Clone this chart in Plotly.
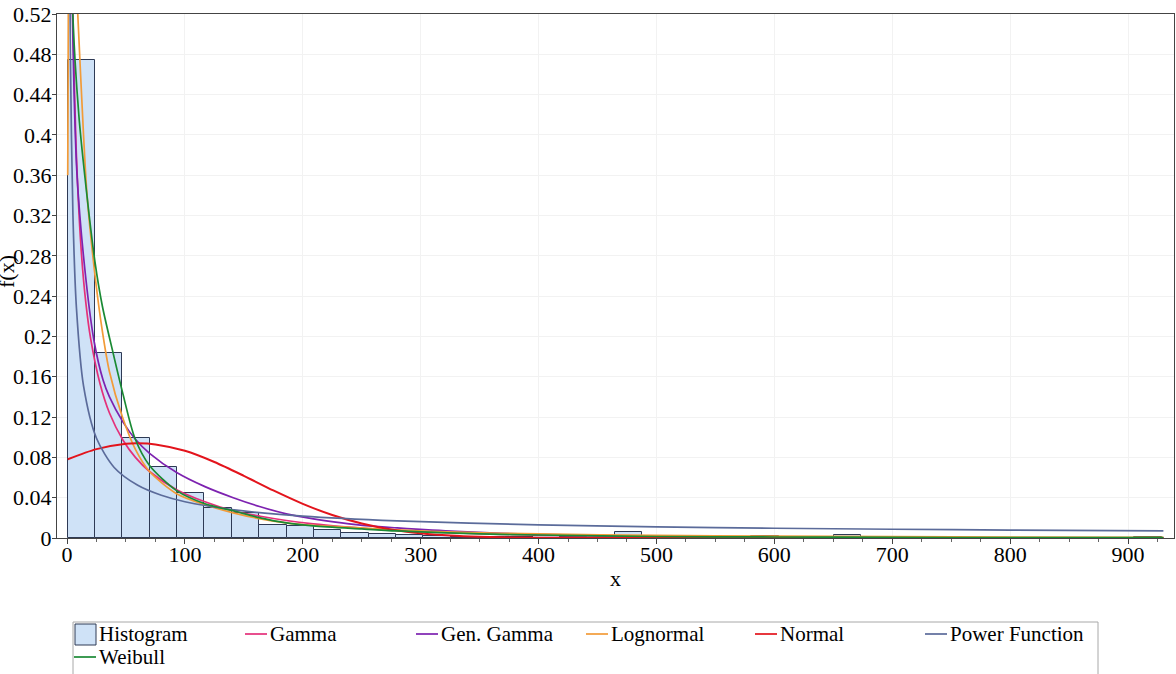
import plotly.graph_objects as go

# Histogram: relative frequency per bin (40 equal bins)
bin_start = 0.6
bin_width = 23.2
hist_freq = [0.474, 0.184, 0.099, 0.070, 0.045, 0.030, 0.025, 0.013, 0.012, 0.008,
             0.005, 0.004, 0.003, 0.002, 0.001, 0.001, 0.001, 0.002, 0.001, 0.0,
             0.006, 0.0, 0.0, 0.0, 0.0, 0.002, 0.0, 0.0, 0.003, 0.0,
             0.0, 0.0, 0.0, 0.0, 0.0, 0.0, 0.0, 0.0, 0.0, 0.001]

# Fitted densities (scaled to bin width)
gamma_x = [1, 2, 4, 5, 7.6, 12, 16, 20, 28, 36, 47.5, 58, 70, 93, 117, 141, 164, 186,
           209, 233, 256, 280, 330, 400, 500, 600, 700, 800, 930]
gamma_y = [1.45, 0.94, 0.597, 0.517, 0.391, 0.286, 0.233, 0.198, 0.153, 0.124, 0.097,
           0.080, 0.066, 0.048, 0.036, 0.027, 0.0216, 0.0174, 0.0140, 0.0113, 0.0092,
           0.0075, 0.0050, 0.0028, 0.0013, 0.0006, 0.0003, 0.00015, 0.00006]

gengamma_x = [1, 2, 4.5, 8.5, 16, 23, 30.5, 36, 47.5, 58, 70, 93, 117, 141, 164, 186,
              209, 233, 256, 280, 330, 400, 500, 600, 700, 800, 930]
gengamma_y = [1.3, 0.85, 0.523, 0.36, 0.257, 0.195, 0.157, 0.140, 0.115, 0.098, 0.084,
              0.065, 0.051, 0.040, 0.031, 0.024, 0.019, 0.015, 0.012, 0.010, 0.0065,
              0.0035, 0.0015, 0.0006, 0.00025, 0.0001, 0.00004]

lognorm_x = [0.6, 1.5, 3, 5, 9, 14, 17, 24, 30, 36, 47, 58, 70, 93, 117, 141, 164, 186,
             209, 233, 256, 280, 330, 400, 500, 600, 700, 800, 930]
lognorm_y = [0.36, 0.62, 0.68, 0.63, 0.523, 0.40, 0.34, 0.258, 0.205, 0.165, 0.120,
             0.088, 0.066, 0.044, 0.033, 0.025, 0.019, 0.015, 0.0125, 0.011, 0.0095,
             0.008, 0.0058, 0.004, 0.0026, 0.0018, 0.0013, 0.001, 0.0007]

normal_x = [0.6, 25, 50, 60, 75, 100, 125, 150, 175, 200, 225, 250, 275, 300, 325,
            350, 400, 450, 500, 600, 700, 800, 930]
normal_y = [0.0782, 0.0882, 0.0935, 0.094, 0.0929, 0.0865, 0.0754, 0.0617, 0.0472,
            0.0339, 0.0228, 0.0144, 0.0085, 0.0047, 0.0024, 0.0012, 0.0002, 0.0, 0.0,
            0.0, 0.0, 0.0, 0.0]

power_x = [1, 2, 3, 5, 8, 14, 25, 40, 60, 80, 100, 140, 200, 280, 400, 500, 600, 700,
           800, 930]
power_y = [1.04, 0.63, 0.465, 0.321, 0.228, 0.151, 0.099, 0.070, 0.0523, 0.0424, 0.036,
           0.0282, 0.0217, 0.017, 0.0131, 0.0111, 0.0097, 0.0087, 0.0079, 0.0071]

weibull_x = [1, 4.8, 10, 15.3, 23.7, 30, 39, 47, 57.6, 70, 93, 117, 141, 164, 186, 209,
             250, 280, 350, 400, 500, 600, 700, 800, 930]
weibull_y = [0.95, 0.523, 0.42, 0.357, 0.274, 0.23, 0.184, 0.145, 0.099, 0.072, 0.047,
             0.034, 0.027, 0.020, 0.015, 0.012, 0.009, 0.007, 0.004, 0.003, 0.0015,
             0.001, 0.0006, 0.0004, 0.0003]

y_ticks = [0, 0.04, 0.08, 0.12, 0.16, 0.2, 0.24, 0.28, 0.32, 0.36, 0.4, 0.44, 0.48, 0.52]
y_tick_text = ["0", "0.04", "0.08", "0.12", "0.16", "0.2", "0.24", "0.28", "0.32",
               "0.36", "0.4", "0.44", "0.48", "0.52"]

SERIF = "'Liberation Serif', 'Times New Roman', 'DejaVu Serif', serif"
HIST_FILL = "#cfe2f7"
HIST_EDGE = "#2e3a55"

# Figure / plot-area geometry in pixels
W, H = 1176, 674
ML, MR, MT, MB = 57, 2, 14, 136
PW, PH = W - ML - MR, H - MT - MB


def paper_x(px):
    return (px - ML) / PW


def paper_y(py):
    return (H - MB - py) / PH


fig = go.Figure()

centers = [bin_start + bin_width * (i + 0.5) for i in range(len(hist_freq))]
fig.add_trace(go.Bar(
    x=centers, y=hist_freq, width=bin_width, name="Histogram",
    marker=dict(color=HIST_FILL, line=dict(color=HIST_EDGE, width=1)),
))

curves = [
    ("Gamma", gamma_x, gamma_y, "#e4307a", 1.7),
    ("Gen. Gamma", gengamma_x, gengamma_y, "#7d22b0", 1.7),
    ("Lognormal", lognorm_x, lognorm_y, "#f29b38", 1.7),
    ("Normal", normal_x, normal_y, "#e3141c", 2.0),
    ("Power Function", power_x, power_y, "#5b6b9a", 1.7),
    ("Weibull", weibull_x, weibull_y, "#1a8a34", 1.7),
]
for name, xs, ys, color, lw in curves:
    fig.add_trace(go.Scatter(
        x=xs, y=ys, mode="lines", name=name,
        line=dict(color=color, width=lw, shape="spline", smoothing=0.8),
    ))

# Legend panel below the plot: box, swatches and labels
shapes = [
    dict(type="rect", xref="paper", yref="paper",
         x0=paper_x(73), x1=paper_x(1098), y0=paper_y(622), y1=paper_y(700),
         line=dict(color="#a8a8a8", width=1), fillcolor="rgba(0,0,0,0)", layer="above"),
    dict(type="rect", xref="paper", yref="paper",
         x0=paper_x(75), x1=paper_x(96), y0=paper_y(624), y1=paper_y(645),
         line=dict(color=HIST_EDGE, width=1), fillcolor=HIST_FILL, layer="above"),
]
annotations = [dict(
    text="Histogram", xref="paper", yref="paper", x=paper_x(98), y=paper_y(634),
    xanchor="left", yanchor="middle", showarrow=False, borderpad=0,
    font=dict(family=SERIF, size=21, color="black"),
)]
legend_slots = [(245, 634), (416, 634), (586, 634), (755, 634), (925, 634), (74, 657)]
for (name, _, _, color, _), (lx, ly) in zip(curves, legend_slots):
    shapes.append(dict(
        type="line", xref="paper", yref="paper",
        x0=paper_x(lx), x1=paper_x(lx + 22), y0=paper_y(ly), y1=paper_y(ly),
        line=dict(color=color, width=1.7), layer="above",
    ))
    annotations.append(dict(
        text=name, xref="paper", yref="paper", x=paper_x(lx + 24), y=paper_y(ly),
        xanchor="left", yanchor="middle", showarrow=False, borderpad=0,
        font=dict(family=SERIF, size=21, color="black"),
    ))

# Rotated y-axis caption at the left edge
annotations.append(dict(
    text="f(x)", xref="paper", yref="paper", x=paper_x(6), y=paper_y(272),
    textangle=-90, showarrow=False, font=dict(family=SERIF, size=22),
    xanchor="center", yanchor="middle",
))

fig.update_layout(
    width=W, height=H,
    margin=dict(l=ML, r=MR, t=MT, b=MB, autoexpand=False),
    plot_bgcolor="white", paper_bgcolor="white",
    font=dict(family=SERIF, size=22, color="black"),
    bargap=0,
    showlegend=False,
    xaxis=dict(
        range=[-8.5, 939], tickvals=list(range(0, 1000, 100)),
        ticks="outside", ticklen=5, tickcolor="#444",
        ticklabelstandoff=-8,
        tickfont=dict(family=SERIF, size=22),
        minor=dict(dtick=25, tick0=0, ticks="outside", ticklen=3, tickcolor="#666",
                   showgrid=False),
        showline=True, linecolor="#444", linewidth=1, mirror=True,
        showgrid=True, gridcolor="#f2f2f2", zeroline=False,
        title=dict(text="x", standoff=4, font=dict(family=SERIF, size=22)),
    ),
    yaxis=dict(
        range=[0, 0.52], tickvals=y_ticks, ticktext=y_tick_text,
        ticks="outside", ticklen=4, tickcolor="#444",
        ticklabelstandoff=-4,
        tickfont=dict(family=SERIF, size=22),
        showline=True, linecolor="#444", linewidth=1, mirror=True,
        showgrid=True, gridcolor="#f2f2f2", zeroline=False,
    ),
    shapes=shapes,
    annotations=annotations,
)

fig.write_html("out.html")
